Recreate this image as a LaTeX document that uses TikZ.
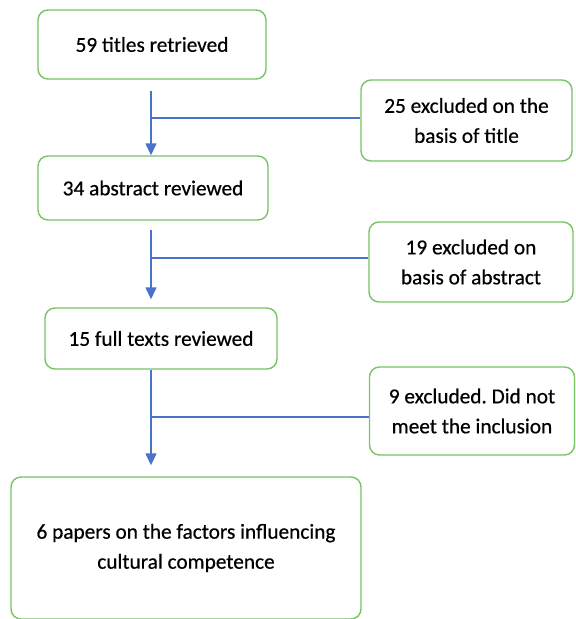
\documentclass[tikz,border=0pt]{standalone}
\usepackage{fontspec}
\setmainfont{Carlito}
\newfontfamily\boxfont{Carlito}[FakeBold=0.5]
\usetikzlibrary{arrows.meta}
\definecolor{boxgreen}{RGB}{118,196,98}
\definecolor{lineblue}{RGB}{72,114,204}
\tikzset{
  box/.style={draw=boxgreen, line width=1.4pt, rounded corners=10pt, fill=white,
    inner sep=0pt, align=center, text=black,
    font=\boxfont\fontsize{21.3}{30}\selectfont\frenchspacing},
  conn/.style={draw=lineblue, line width=1.4pt},
  arr/.style={conn, -{Triangle[width=11pt,length=12pt]}}
}
\begin{document}
\begin{tikzpicture}[x=1pt,y=-1pt]
\useasboundingbox (0,0) rectangle (576,619);
\node[box, minimum width=228pt, minimum height=69pt] (b1) at (152,44.5) {59 titles retrieved};
\node[box, minimum width=230pt, minimum height=64pt] (b2) at (153,188) {34 abstract reviewed};
\node[box, minimum width=232pt, minimum height=61pt] (b3) at (161,338.5) {15 full texts reviewed};
\node[box, minimum width=350pt, minimum height=142pt] (b4) at (186,548) {6 papers on the factors influencing\\cultural competence};
\node[box, minimum width=211pt, minimum height=81pt] (e1) at (466.5,120.5) {25 excluded on the\\basis of title};
\node[box, minimum width=204pt, minimum height=80pt] (e2) at (471,262) {19 excluded on\\basis of abstract};
\node[box, minimum width=205pt, minimum height=88pt] (e3) at (472,411) {9 excluded. Did not\\meet the inclusion};
\coordinate (j1) at (151,118);
\coordinate (j2) at (151,258);
\coordinate (j3) at (151,417);
\draw[arr, shorten <=11pt] (b1.south -| j1) -- (b2.north -| j1);
\draw[arr, shorten <=9pt, shorten >=8pt] (b2.south -| j2) -- (b3.north -| j2);
\draw[arr, shorten >=11pt] (b3.south -| j3) -- (b4.north -| j3);
\draw[conn] (j1) -- (j1 -| e1.west);
\draw[conn] (j2) -- (j2 -| e2.west);
\draw[conn] (j3) -- (j3 -| e3.west);
\end{tikzpicture}
\end{document}
